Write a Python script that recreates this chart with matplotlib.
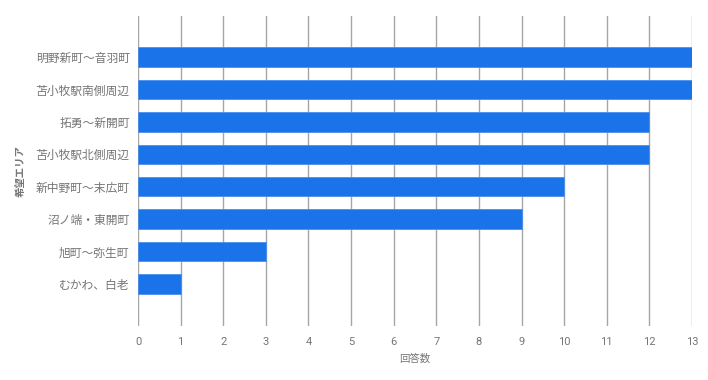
import matplotlib
matplotlib.use("Agg")
import matplotlib.pyplot as plt

plt.rcParams['font.family'] = ['Noto Sans CJK JP', 'DejaVu Sans']

# data
areas = ['明野新町～音羽町', '苫小牧駅南側周辺', '拓勇～新開町', '苫小牧駅北側周辺',
         '新中野町～末広町', '沼ノ端・東開町', '旭町～弥生町', 'むかわ、白老']
counts = [13, 13, 12, 12, 10, 9, 3, 1]
xticks = list(range(0, 14))

text_gray = '#757575'
grid_gray = '#a6a6a6'
bar_blue = '#1a73e8'

W, H = 708, 380
fig = plt.figure(figsize=(W / 100, H / 100), dpi=100)
ax = fig.add_axes([138 / W, 1 - 326 / H, (692 - 138) / W, (326 - 16) / H])

ypos = list(range(len(areas)))
ax.barh(ypos, counts, height=0.6, color=bar_blue, edgecolor='#4a90ee',
        linewidth=0.6, zorder=3)

ax.set_xlim(0, 13)
ax.set_ylim(len(areas) - 1 + 1.3, -1.27)
ax.set_xticks(xticks)
ax.set_xticklabels([str(t) for t in xticks], color=text_gray, fontsize=8,
                   family=['Roboto', 'DejaVu Sans'])
ax.set_yticks(ypos)
ax.set_yticklabels(areas, color=text_gray, fontsize=8.5)
ax.tick_params(axis='both', length=0)
ax.tick_params(axis='x', pad=8)
ax.tick_params(axis='y', pad=6)

ax.grid(axis='x', color=grid_gray, linewidth=1, zorder=0)
for s in ax.spines.values():
    s.set_visible(False)

ax.set_xlabel('回答数', color=text_gray, fontsize=7.5, labelpad=5)
ax.set_ylabel('希望エリア', color=text_gray, fontsize=7.5, fontweight='bold')
ax.yaxis.set_label_coords(-112 / (692 - 138), 0.5)

fig.savefig('out.png', dpi=100)
